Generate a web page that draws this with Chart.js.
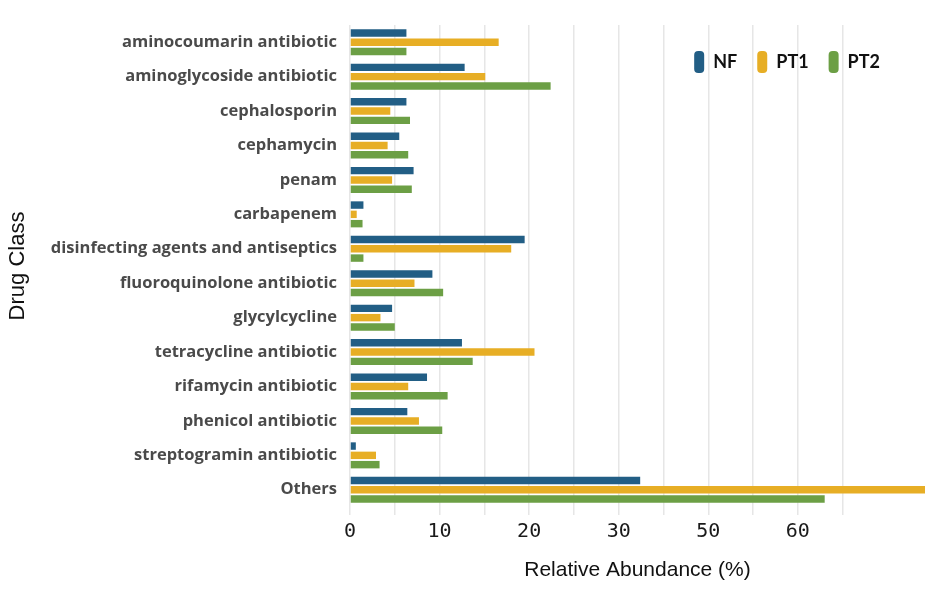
<!DOCTYPE html>
<html>
<head>
<meta charset="utf-8">
<script src="https://cdn.jsdelivr.net/npm/chart.js@4"></script>
<style>
  html, body { margin: 0; padding: 0; background: #fff; }
  #wrap { width: 935px; height: 600px; position: relative; }
</style>
</head>
<body>
<div id="wrap"><canvas id="drugChart"></canvas></div>
<script>
const categories = ["aminocoumarin antibiotic", "aminoglycoside antibiotic", "cephalosporin", "cephamycin", "penam", "carbapenem", "disinfecting agents and antiseptics", "fluoroquinolone antibiotic", "glycylcycline", "tetracycline antibiotic", "rifamycin antibiotic", "phenicol antibiotic", "streptogramin antibiotic", "Others"];
const nfValues = [6.3, 12.8, 6.3, 5.5, 7.1, 1.5, 19.5, 9.2, 4.7, 12.5, 8.6, 6.4, 0.65, 32.4];
const pt1Values = [16.6, 15.1, 4.5, 4.2, 4.7, 0.75, 18.0, 7.2, 3.4, 20.6, 6.5, 7.7, 2.9, 65];
const pt2Values = [6.3, 22.4, 6.7, 6.5, 6.9, 1.4, 1.5, 10.4, 5.0, 13.7, 10.9, 10.3, 3.3, 53.0];
// labels shown under every second grid line (as printed in the figure)
const tickLabels = ["0", "10", "20", "30", "50", "60", ""];

const ctx = document.getElementById('drugChart').getContext('2d');

// legend takes no layout room so it sits over the top of the plot
const legendOverlay = {
    id: 'legendOverlay',
    beforeLayout(chart) {
        const lg = chart.legend;
        if (!lg || lg._patched) return;
        const fit = lg.fit;
        lg.fit = function () {
            fit.call(this);
            this._fullHeight = this.height;
            this.height = 0;
        };
        lg._patched = true;
    },
    afterLayout(chart) {
        const lg = chart.legend;
        if (lg && lg._fullHeight) {
            lg.top += 6;
            lg.height = lg._fullHeight;
            lg.bottom = lg.top + lg._fullHeight;
            lg.right = chart.chartArea.right - 25;
        }
    }
};

const data = {
    labels: categories,
    datasets: [
        { label: 'NF', data: nfValues, backgroundColor: '#225e85' },
        { label: 'PT1', data: pt1Values, backgroundColor: '#e7ae25' },
        { label: 'PT2', data: pt2Values, backgroundColor: '#6c9f45' }
    ]
};

const config = {
    type: 'bar',
    data: data,
    plugins: [legendOverlay],
    options: {
        indexAxis: 'y',
        responsive: true,
        maintainAspectRatio: false,
        animation: false,
        layout: { padding: { top: 25, right: 10, bottom: 0, left: 0 } },
        datasets: {
            bar: { categoryPercentage: 0.81, barPercentage: 0.8, borderWidth: 0 }
        },
        plugins: {
            tooltip: { enabled: false },
            legend: {
                display: true,
                position: 'top',
                align: 'end',
                labels: {
                    boxWidth: 10,
                    boxHeight: 22,
                    useBorderRadius: true,
                    borderRadius: 4,
                    padding: 20,
                    color: '#111',
                    font: { family: 'Lato', size: 18, weight: 'bold' }
                }
            }
        },
        scales: {
            x: {
                min: 0,
                max: 64.2,
                afterFit: (scale) => { scale.height = 93; },
                border: { display: false },
                grid: {
                    color: (c) => (c.tick && Math.round(c.tick.value * 100) % 500 === 0) ? '#e6e6e6' : 'rgba(0,0,0,0)',
                    lineWidth: 1.5,
                    drawTicks: true,
                    tickLength: 8
                },
                ticks: {
                    stepSize: 5,
                    autoSkip: false,
                    maxRotation: 0,
                    padding: 5,
                    color: '#1a1a1a',
                    font: { family: 'DejaVu Sans Mono', size: 20 },
                    callback: (v) => {
                        const r = Math.round(v * 100);
                        if (r % 1000 !== 0) return '';
                        return tickLabels[r / 1000] || '';
                    }
                },
                title: {
                    display: true,
                    text: 'Relative Abundance (%)',
                    color: '#111',
                    font: { family: 'Liberation Sans', size: 21 },
                    padding: { top: 0, bottom: 17 }
                }
            },
            y: {
                afterFit: (scale) => { scale.width = 350; },
                border: { display: false },
                grid: { display: false, drawTicks: false },
                ticks: {
                    padding: 13,
                    color: '#4a4a4a',
                    font: { family: 'Open Sans', size: 16.5, weight: 'bold' }
                },
                title: {
                    display: true,
                    text: 'Drug Class',
                    color: '#111',
                    font: { family: 'Liberation Sans', size: 22 },
                    padding: { top: 5, bottom: 0 }
                }
            }
        }
    }
};

new Chart(ctx, config);
</script>
</body>
</html>
